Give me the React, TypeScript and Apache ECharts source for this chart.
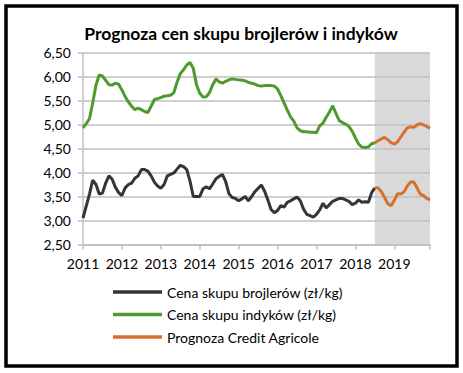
import React, { useEffect, useRef } from "react";
import * as echarts from "echarts";

const years = [2011, 2012, 2013, 2014, 2015, 2016, 2017, 2018, 2019];

// Cena skupu brojlerów (zł/kg), monthly Jan 2011 – Jul 2018
const brojlery = [
  3.05, 3.3, 3.55, 3.84, 3.75, 3.55, 3.57, 3.78, 3.93, 3.86, 3.69, 3.58,
  3.52, 3.68, 3.75, 3.78, 3.88, 3.93, 4.06, 4.06, 4.03, 3.93, 3.8, 3.72,
  3.67, 3.75, 3.93, 3.96, 3.99, 4.07, 4.15, 4.12, 4.06, 3.82, 3.5, 3.5,
  3.5, 3.66, 3.7, 3.66, 3.76, 3.87, 3.92, 3.96, 3.81, 3.56, 3.48, 3.46,
  3.41, 3.45, 3.5, 3.41, 3.5, 3.6, 3.67, 3.74, 3.61, 3.43, 3.23, 3.16,
  3.21, 3.31, 3.28, 3.38, 3.41, 3.45, 3.49, 3.41, 3.24, 3.13, 3.1, 3.07,
  3.13, 3.22, 3.36, 3.26, 3.33, 3.4, 3.43, 3.46, 3.46, 3.43, 3.4, 3.33,
  3.36, 3.43, 3.38, 3.39, 3.38, 3.58, 3.68,
];

// Cena skupu indyków (zł/kg), monthly Jan 2011 – Jul 2018
const indyki = [
  4.93, 5.02, 5.12, 5.45, 5.82, 6.03, 6.01, 5.92, 5.83, 5.82, 5.86, 5.84,
  5.72, 5.58, 5.47, 5.38, 5.31, 5.34, 5.31, 5.27, 5.25, 5.38, 5.52, 5.54,
  5.56, 5.59, 5.6, 5.61, 5.66, 5.88, 6.06, 6.14, 6.24, 6.29, 6.17, 5.83,
  5.65, 5.57, 5.58, 5.66, 5.83, 5.95, 5.89, 5.86, 5.9, 5.93, 5.95, 5.94,
  5.93, 5.92, 5.91, 5.88, 5.86, 5.84, 5.81, 5.8, 5.81, 5.81, 5.81, 5.8,
  5.74, 5.6, 5.45, 5.3, 5.16, 5.07, 4.93, 4.87, 4.85, 4.85, 4.84, 4.84,
  4.83, 4.97, 5.03, 5.15, 5.26, 5.39, 5.23, 5.08, 5.04, 5.01, 4.96, 4.86,
  4.72, 4.59, 4.53, 4.52, 4.53, 4.6, 4.62,
];

// Prognoza Credit Agricole, Jul 2018 – Dec 2019
const prognozaIndyki = [
  4.62, 4.66, 4.7, 4.73, 4.68, 4.62, 4.59, 4.64, 4.74, 4.84, 4.93, 4.95,
  4.94, 4.99, 5.02, 4.99, 4.96, 4.92,
];
const prognozaBrojlery = [
  3.68, 3.68, 3.6, 3.48, 3.35, 3.31, 3.42, 3.56, 3.55, 3.6, 3.72, 3.8,
  3.8, 3.68, 3.55, 3.52, 3.46, 3.43,
];

const forecastStart = "2018-07";
const forecastEnd = "2019-12";

const months: string[] = [];
years.forEach((y) => {
  for (let m = 1; m <= 12; m++) months.push(`${y}-${m < 10 ? "0" + m : m}`);
});

const FONT = "Lato";
const C_BLACK = "#353535";
const C_GREEN = "#4f9a2f";
const C_ORANGE = "#d6712d";

const NAME_B = "Cena skupu brojlerów (zł/kg)";
const NAME_I = "Cena skupu indyków (zł/kg)";
const NAME_P = "Prognoza Credit Agricole";

export default function App() {
  const ref = useRef<HTMLDivElement>(null);
  useEffect(() => {
    if (!ref.current) return;
    const chart = echarts.init(ref.current, undefined, { renderer: "svg" });
    const startIdx = months.indexOf(forecastStart);
    const pad = (arr: number[]) =>
      new Array(startIdx).fill(null).concat(arr);
    const lineBase = {
      type: "line",
      symbol: "none",
      showSymbol: false,
      smooth: false,
      z: 5,
    };
    chart.setOption({
      animation: false,
      backgroundColor: "#ffffff",
      textStyle: { fontFamily: FONT },
      graphic: [
        {
          type: "rect",
          shape: { x: 6, y: 6, width: 451, height: 360 },
          style: { fill: "none", stroke: "#000", lineWidth: 3.5 },
          z: 10,
        },
        {
          type: "text",
          x: 241,
          y: 33,
          style: {
            text: "Prognoza cen skupu brojlerów i indyków",
            fontFamily: FONT,
            fontWeight: "bold",
            fontSize: 17.5,
            fill: "#000",
            align: "center",
            verticalAlign: "middle",
          },
        },
      ],
      grid: { left: 83, right: 33, top: 52.5, bottom: 128.5, containLabel: false },
      legend: {
        data: [NAME_B, NAME_I, NAME_P],
        orient: "vertical",
        left: 113,
        top: 285,
        padding: 0,
        icon: "rect",
        itemWidth: 49,
        itemHeight: 3.5,
        itemGap: 8.5,
        textStyle: { fontFamily: FONT, fontSize: 14, lineHeight: 14, color: "#000" },
      },
      xAxis: {
        type: "category",
        data: months,
        boundaryGap: false,
        z: 3,
        axisLine: { lineStyle: { color: "#bfbfbf", width: 1.5 } },
        axisTick: {
          show: true,
          length: 5,
          interval: (i: number) => i % 12 === 0 || i === months.length - 1,
          lineStyle: { color: "#bfbfbf", width: 1.5 },
        },
        axisLabel: {
          interval: (i: number) => i % 12 === 0,
          formatter: (v: string) => v.slice(0, 4),
          fontFamily: FONT,
          fontSize: 14,
          color: "#000",
          margin: 12,
        },
        splitLine: { show: false },
      },
      yAxis: {
        type: "value",
        min: 2.5,
        max: 6.5,
        interval: 0.5,
        z: 3,
        axisLine: { show: true, lineStyle: { color: "#bfbfbf", width: 1.5 } },
        axisTick: { show: true, length: 5, lineStyle: { color: "#bfbfbf", width: 1.5 } },
        axisLabel: {
          formatter: (v: number) => v.toFixed(2).replace(".", ","),
          fontFamily: FONT,
          fontSize: 14,
          color: "#000",
          margin: 12,
        },
        splitLine: { lineStyle: { color: "#bfbfbf", width: 1.5 } },
      },
      series: [
        {
          type: "line",
          name: "band",
          data: [],
          z: 1,
          silent: true,
          markArea: {
            silent: true,
            itemStyle: { color: "#d9d9d9" },
            data: [[{ xAxis: forecastStart }, { xAxis: forecastEnd }]],
          },
        },
        {
          ...lineBase,
          name: NAME_B,
          data: brojlery,
          lineStyle: { color: C_BLACK, width: 3 },
          itemStyle: { color: C_BLACK },
        },
        {
          ...lineBase,
          name: NAME_I,
          data: indyki,
          lineStyle: { color: C_GREEN, width: 3 },
          itemStyle: { color: C_GREEN },
        },
        {
          ...lineBase,
          name: NAME_P,
          data: pad(prognozaIndyki),
          lineStyle: { color: C_ORANGE, width: 3 },
          itemStyle: { color: C_ORANGE },
        },
        {
          ...lineBase,
          name: NAME_P,
          data: pad(prognozaBrojlery),
          lineStyle: { color: C_ORANGE, width: 3 },
          itemStyle: { color: C_ORANGE },
        },
      ],
    });
    return () => chart.dispose();
  }, []);
  return (
    <div
      ref={ref}
      style={{ position: "fixed", left: 0, top: 0, width: 463, height: 373 }}
    />
  );
}
